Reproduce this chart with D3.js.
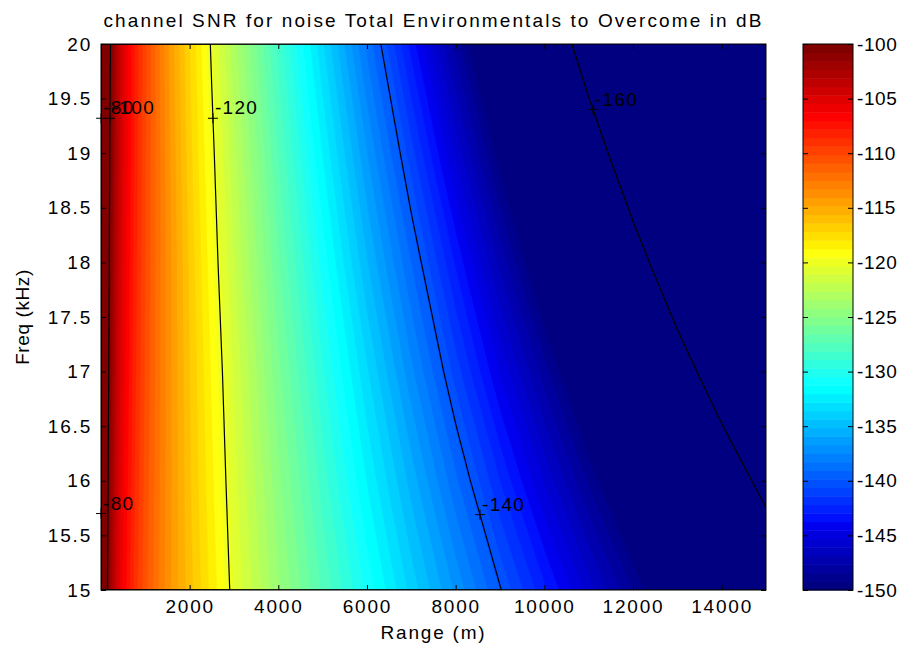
<!DOCTYPE html>
<html>
<head>
<meta charset="utf-8">
<script src="https://cdn.jsdelivr.net/npm/d3@7"></script>
<style>
	body { margin: 0; background: #fff; }
	svg text { font-family: "Liberation Sans", Arial, sans-serif; fill: #000; }
</style>
</head>
<body>
<svg id="chart" width="906" height="650"></svg>
<script>

// Range samples (m) and frequency rows (kHz) of the SNR grid
var ranges = [1, 5, 20, 50, 100, 200, 350, 500, 750, 1000, 1500, 2000, 2500, 3000,
	4000, 5000, 6000, 7000, 8000, 9000, 10000, 11000, 12000, 13000, 14000, 15000];
var freqs = [15, 16, 17, 18, 19, 20];

// SNR in dB, one row per frequency
var snr15 = [-78.2, -85.2, -91.3, -95.3, -98.5, -101.7, -104.5, -106.4, -108.8, -110.7, -113.7, -116.1, -118.3, -120.4,
	-124.1, -127.5, -130.7, -133.9, -136.9, -139.9, -142.8, -145.7, -148.5, -151.3, -154.1, -156.9];
var snr16 = [-77.7, -84.7, -90.8, -94.8, -98.0, -101.3, -104.1, -106.1, -108.5, -110.5, -113.6, -116.3, -118.6, -120.8,
	-124.8, -128.5, -132.1, -135.5, -138.9, -142.2, -145.4, -148.6, -151.7, -154.9, -157.9, -161.0];
var snr17 = [-77.2, -84.2, -90.3, -94.3, -97.5, -100.8, -103.7, -105.7, -108.3, -110.3, -113.6, -116.4, -118.9, -121.2,
	-125.6, -129.6, -133.5, -137.3, -141.0, -144.6, -148.1, -151.6, -155.1, -158.5, -161.9, -165.3];
var snr18 = [-76.8, -83.8, -89.8, -93.9, -97.1, -100.4, -103.4, -105.5, -108.1, -110.2, -113.6, -116.6, -119.3, -121.8,
	-126.5, -130.8, -135.1, -139.1, -143.1, -147.1, -151.0, -154.8, -158.6, -162.4, -166.1, -169.8];
var snr19 = [-76.3, -83.3, -89.4, -93.5, -96.7, -100.1, -103.1, -105.2, -107.9, -110.1, -113.7, -116.9, -119.7, -122.4,
	-127.4, -132.1, -136.7, -141.1, -145.5, -149.8, -154.0, -158.2, -162.3, -166.5, -170.5, -174.6];
var snr20 = [-75.9, -82.9, -89.0, -93.1, -96.3, -99.7, -102.8, -105.0, -107.8, -110.0, -113.9, -117.2, -120.2, -123.1,
	-128.4, -133.5, -138.5, -143.3, -148.0, -152.6, -157.2, -161.7, -166.3, -170.7, -175.2, -179.6];

// Contour lines and where their labels sit
var contourLevels = [-160, -140, -120, -100, -80];
var labelLevels = [-80, -100, -120, -80, -140, -160];
var labelFreqs = [19.32, 19.32, 19.32, 15.7, 15.69, 19.4];

// Axes
var xDomain = [1, 15000];
var yDomain = [15, 20];
var xTicks = [2000, 4000, 6000, 8000, 10000, 12000, 14000];
var yTicks = [15, 15.5, 16, 16.5, 17, 17.5, 18, 18.5, 19, 19.5, 20];
var cLim = [-150, -100];
var cbTicks = [-150, -145, -140, -135, -130, -125, -120, -115, -110, -105, -100];

var titleText = 'channel SNR for noise Total Environmentals to Overcome in dB';
var xLabel = 'Range (m)';
var yLabel = 'Freq (kHz)';

var plot = { left: 101, right: 766, top: 44, bottom: 590 };
var cbar = { left: 803, right: 853 };
var nColors = 64;

// MATLAB jet colormap, 64 entries
function jet(i) {
	var k = i + 1;
	var u = function(j) {
		if (j < 1 || j > 47) return 0;
		if (j <= 16) return j / 16;
		if (j <= 31) return 1;
		return (48 - j) / 16;
	};
	return d3.rgb(255 * u(k - 24), 255 * u(k - 8), 255 * u(k + 7)).toString();
}

var svg = d3.select('#chart');

var x = d3.scaleLinear().domain(xDomain).range([plot.left, plot.right]);
var y = d3.scaleLinear().domain(yDomain).range([plot.bottom, plot.top]);

// grid index -> data value (piecewise, ranges are not evenly spaced)
var nx = ranges.length, ny = freqs.length;
var gx = d3.scaleLinear().domain(d3.range(nx)).range(ranges).clamp(true);
var gy = d3.scaleLinear().domain(d3.range(ny)).range(freqs).clamp(true);
var values = [].concat(snr15, snr16, snr17, snr18, snr19, snr20);

function px(c) { return x(gx(c - 0.5)); }
function py(c) { return y(gy(c - 0.5)); }

var path = d3.geoPath(d3.geoTransform({
	point: function(a, b) { this.stream.point(px(a), py(b)); }
}));

svg.append('clipPath').attr('id', 'plotClip')
	.append('rect')
	.attr('x', plot.left).attr('y', plot.top)
	.attr('width', plot.right - plot.left).attr('height', plot.bottom - plot.top);

// Colour field: 64 bands of the jet map
var step = (cLim[1] - cLim[0]) / nColors;
var bandThresholds = d3.range(1, nColors).map(function(k) { return cLim[0] + k * step; });
var bands = d3.contours().size([nx, ny]).thresholds(bandThresholds)(values);

var field = svg.append('g').attr('clip-path', 'url(#plotClip)');
field.append('rect')
	.attr('x', plot.left).attr('y', plot.top)
	.attr('width', plot.right - plot.left).attr('height', plot.bottom - plot.top)
	.attr('fill', jet(0));
field.selectAll('path.band')
	.data(bands)
	.enter().append('path')
	.attr('class', 'band')
	.attr('d', path)
	.attr('fill', function(d, i) { return jet(i + 1); })
	.attr('stroke', function(d, i) { return jet(i + 1); })
	.attr('stroke-width', 0.5);

// Contour lines
var lines = d3.contours().size([nx, ny]).thresholds(contourLevels)(values);
field.selectAll('path.iso')
	.data(lines)
	.enter().append('path')
	.attr('class', 'iso')
	.attr('d', path)
	.attr('fill', 'none')
	.attr('stroke', '#000')
	.attr('stroke-width', 1.2);

// Find the x pixel where a contour crosses a given y pixel (skipping the grid border)
function crossing(geom, yPix) {
	var found = null;
	geom.coordinates.forEach(function(poly) {
		poly.forEach(function(ring) {
			for (var i = 1; i < ring.length && found === null; i++) {
				var p = ring[i - 1], q = ring[i];
				if (p[0] === q[0] && (p[0] === 0 || p[0] === nx)) continue;
				if (p[1] === q[1] && (p[1] === 0 || p[1] === ny)) continue;
				var ay = py(p[1]), by = py(q[1]);
				if (ay === by || (ay - yPix) * (by - yPix) > 0) continue;
				var ax = px(p[0]), bx = px(q[0]);
				found = ax + (yPix - ay) / (by - ay) * (bx - ax);
			}
		});
	});
	return found;
}

var labels = svg.append('g').attr('font-size', 19).attr('letter-spacing', 1.3);
labelLevels.forEach(function(level, i) {
	var geom = lines.filter(function(c) { return c.value === level; })[0];
	if (!geom) return;
	var ly = y(labelFreqs[i]);
	var lx = crossing(geom, ly);
	if (lx === null) return;
	labels.append('path')
		.attr('d', 'M' + (lx - 5) + ',' + ly + 'H' + (lx + 5) + 'M' + lx + ',' + (ly - 5) + 'V' + (ly + 5))
		.attr('stroke', '#000').attr('stroke-width', 1);
	labels.append('text')
		.attr('x', lx + 2).attr('y', ly - 4)
		.text(String(level));
});

// Axes with inward ticks
function styleAxis(g) {
	g.attr('font-family', null).attr('font-size', 19).attr('letter-spacing', 1.8);
	g.select('.domain').remove();
	g.selectAll('line').attr('stroke', '#000');
	g.selectAll('text').attr('fill', '#000');
}

svg.append('g')
	.attr('transform', 'translate(0,' + plot.bottom + ')')
	.call(d3.axisBottom(x).tickValues(xTicks).tickFormat(d3.format('d')).tickSize(-5).tickPadding(10))
	.call(styleAxis);
svg.append('g')
	.attr('transform', 'translate(0,' + plot.top + ')')
	.call(d3.axisTop(x).tickValues(xTicks).tickFormat('').tickSize(-5))
	.call(styleAxis);
svg.append('g')
	.attr('transform', 'translate(' + plot.left + ',0)')
	.call(d3.axisLeft(y).tickValues(yTicks).tickFormat(function(d) { return d % 1 ? d.toFixed(1) : String(d); }).tickSize(-5).tickPadding(9))
	.call(styleAxis);
svg.append('g')
	.attr('transform', 'translate(' + plot.right + ',0)')
	.call(d3.axisRight(y).tickValues(yTicks).tickFormat('').tickSize(-5))
	.call(styleAxis);

svg.append('rect')
	.attr('x', plot.left).attr('y', plot.top)
	.attr('width', plot.right - plot.left).attr('height', plot.bottom - plot.top)
	.attr('fill', 'none').attr('stroke', '#000').attr('stroke-width', 1);

// Colour bar
var cb = d3.scaleLinear().domain(cLim).range([plot.bottom, plot.top]);
svg.append('g').selectAll('rect')
	.data(d3.range(nColors))
	.enter().append('rect')
	.attr('x', cbar.left)
	.attr('width', cbar.right - cbar.left)
	.attr('y', function(k) { return cb(cLim[0] + (k + 1) * step); })
	.attr('height', function(k) { return cb(cLim[0] + k * step) - cb(cLim[0] + (k + 1) * step) + 0.5; })
	.attr('fill', function(k) { return jet(k); });

svg.append('g')
	.attr('transform', 'translate(' + cbar.right + ',0)')
	.call(d3.axisRight(cb).tickValues(cbTicks).tickFormat(function(d) { return String(d); }).tickSize(-5).tickPadding(4))
	.call(styleAxis)
	.attr('letter-spacing', 0.6);
svg.append('g')
	.attr('transform', 'translate(' + cbar.left + ',0)')
	.call(d3.axisLeft(cb).tickValues(cbTicks).tickFormat('').tickSize(-5))
	.call(styleAxis);
svg.append('rect')
	.attr('x', cbar.left).attr('y', plot.top)
	.attr('width', cbar.right - cbar.left).attr('height', plot.bottom - plot.top)
	.attr('fill', 'none').attr('stroke', '#000').attr('stroke-width', 1);

// Title and axis labels
svg.append('text')
	.attr('x', (plot.left + plot.right) / 2).attr('y', 27)
	.attr('text-anchor', 'middle').attr('font-size', 19).attr('letter-spacing', 2.1)
	.text(titleText);
svg.append('text')
	.attr('x', (plot.left + plot.right) / 2).attr('y', 639)
	.attr('text-anchor', 'middle').attr('font-size', 19).attr('letter-spacing', 1.8)
	.text(xLabel);
svg.append('text')
	.attr('transform', 'translate(29,' + (plot.top + plot.bottom) / 2 + ') rotate(-90)')
	.attr('text-anchor', 'middle').attr('font-size', 19).attr('letter-spacing', 0.6)
	.text(yLabel);

</script>
</body>
</html>
